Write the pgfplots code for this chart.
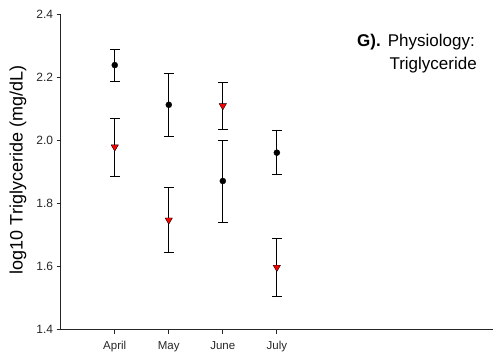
\documentclass[border=0pt]{standalone}
\usepackage{pgfplots}
\pgfplotsset{compat=1.18}
\usepackage{fontspec}
\setmainfont{Liberation Sans}
\begin{document}
\begin{tikzpicture}[x=1pt,y=1pt]
\useasboundingbox (0,0) rectangle (493,358);
\begin{axis}[
  at={(60.7pt,28.3pt)}, anchor=south west,
  scale only axis, width=432.3pt, height=315pt,
  xmin=0, xmax=8, ymin=1.4, ymax=2.4,
  axis x line*=bottom, axis y line*=left,
  axis line style={-, black!85, line width=0.8pt},
  xtick={1,2,3,4}, xticklabels={April,May,June,July},
  ytick={1.4,1.6,1.8,2.0,2.2,2.4},
  y tick label style={/pgf/number format/fixed, /pgf/number format/fixed zerofill, /pgf/number format/precision=1, font=\fontsize{12}{14}\selectfont, text=black!85},
  /pgf/number format/assume math mode=true,
  tick align=outside, major tick length=4pt,
  tick style={black!85, line width=0.8pt},
  x tick label style={font=\fontsize{11.5}{13}\selectfont, text=black!85, yshift=-4pt},
  clip=false,
]
\addplot[only marks, mark=*, black, mark size=3pt,
  error bars/.cd, y dir=both, y explicit,
  error bar style={black, line width=0.8pt},
  error mark options={rotate=90, mark size=5pt, line width=0.8pt, black}]
  coordinates {
  (1,2.240) +- (0,0.051)
  (2,2.114) +- (0,0.100)
  (3,1.872) +- (0,0.130)
  (4,1.962) +- (0,0.070)
  };
\addplot[only marks, mark=triangle*, black, mark size=4.2pt,
  mark options={rotate=180, fill=red, draw=black, line width=0.4pt},
  error bars/.cd, y dir=both, y explicit,
  error bar style={black, line width=0.8pt},
  error mark options={rotate=90, mark size=5pt, line width=0.8pt, black, fill=black}]
  coordinates {
  (1,1.980) +- (0,0.092)
  (2,1.748) +- (0,0.104)
  (3,2.111) +- (0,0.074)
  (4,1.598) +- (0,0.093)
  };
\end{axis}
\node[rotate=90, anchor=base, font=\fontsize{18}{20}\selectfont, inner sep=0] at (22.5,188) {log10 Triglyceride (mg/dL)};
\node[anchor=base east, font=\bfseries\fontsize{17}{20}\selectfont, inner sep=0] at (381,311.3) {G).};
\node[anchor=base west, font=\fontsize{17}{20}\selectfont, inner sep=0] at (387.7,311.3) {Physiology:};
\node[anchor=base west, font=\fontsize{17}{20}\selectfont, inner sep=0] at (389.3,288) {Triglyceride};
\end{tikzpicture}
\end{document}
